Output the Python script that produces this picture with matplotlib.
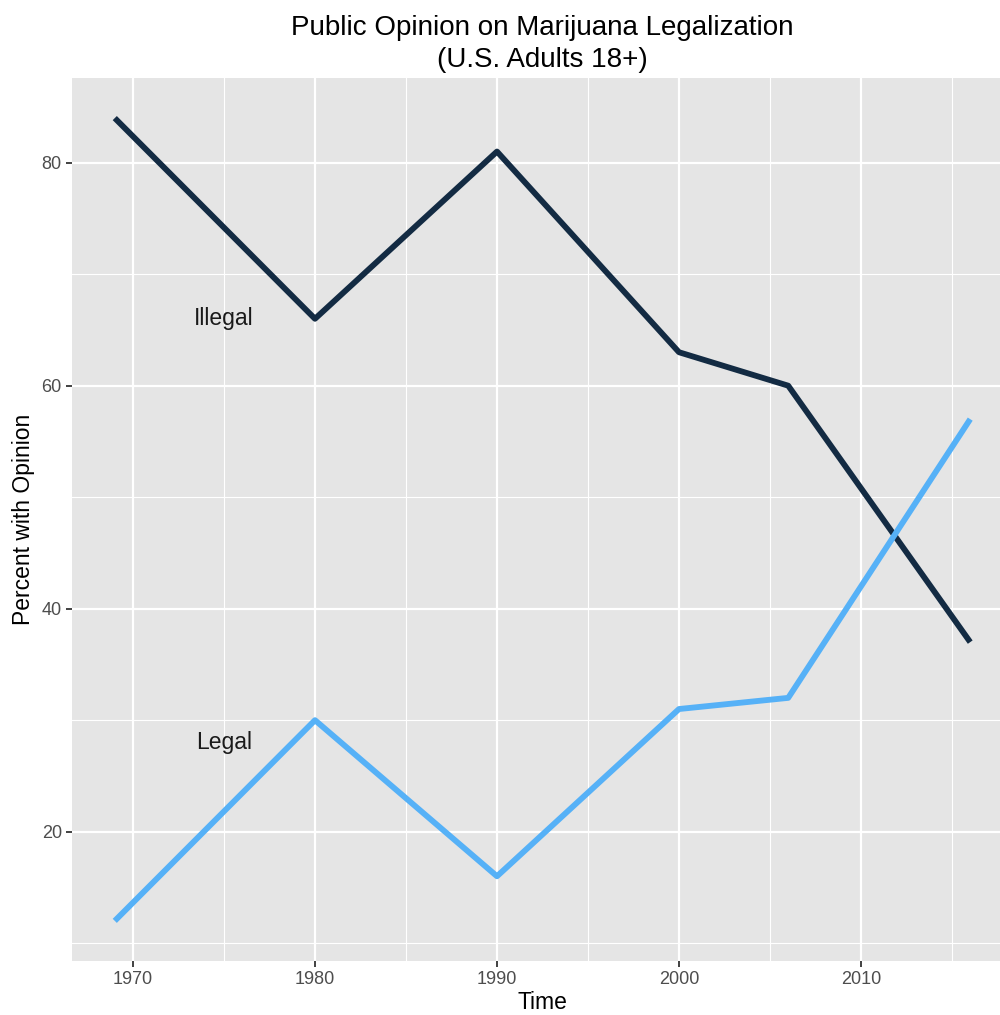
import matplotlib
matplotlib.use("Agg")
import matplotlib.pyplot as plt
from matplotlib.ticker import MultipleLocator

# data
years = [1969, 1980, 1990, 2000, 2006, 2016]
illegal = [84, 66, 81, 63, 60, 37]
legal = [12, 30, 16, 31, 32, 57]
label_year = 1975
label_illegal_y = 66
label_legal_y = 28

plt.rcParams["font.family"] = ["Liberation Sans", "DejaVu Sans"]

fig = plt.figure(figsize=(10, 10.15), dpi=100)
ax = fig.add_axes([0.072, 0.0532, 0.941, 0.870])
ax.set_facecolor("#E5E5E5")
for s in ax.spines.values():
    s.set_visible(False)

ax.plot(years, illegal, color="#132B43", lw=4.2, solid_capstyle="butt", zorder=3)
ax.plot(years, legal, color="#56B1F7", lw=4.2, solid_capstyle="butt", zorder=3)
ax.text(label_year, label_illegal_y, "Illegal", fontsize=16.5, ha="center", va="center", color="#1A1A1A")
ax.text(label_year, label_legal_y, "Legal", fontsize=16.5, ha="center", va="center", color="#1A1A1A")

span_x = years[-1] - years[0]
ax.set_xlim(years[0] - 0.05 * span_x, years[-1] + 0.05 * span_x)
lo, hi = min(legal), max(illegal)
ax.set_ylim(lo - 0.05 * (hi - lo), hi + 0.05 * (hi - lo))

ax.xaxis.set_major_locator(MultipleLocator(10))
ax.xaxis.set_minor_locator(MultipleLocator(5))
ax.yaxis.set_major_locator(MultipleLocator(20))
ax.yaxis.set_minor_locator(MultipleLocator(10))
ax.grid(which="major", color="white", lw=1.6)
ax.grid(which="minor", color="white", lw=0.8)
ax.set_axisbelow(True)
ax.tick_params(which="major", length=4.3, width=1.3, color="#333333", labelcolor="#4D4D4D",
               labelsize=13, pad=3)
ax.tick_params(which="minor", length=0)

ax.set_xlabel("Time", fontsize=16.5, color="black", labelpad=2)
ax.set_ylabel("Percent with Opinion", fontsize=16.5, color="black", labelpad=5)
ax.set_title("Public Opinion on Marijuana Legalization\n(U.S. Adults 18+)", fontsize=20,
             color="black", pad=8, linespacing=1.3)

fig.savefig("out.png", dpi=100, facecolor="white")
